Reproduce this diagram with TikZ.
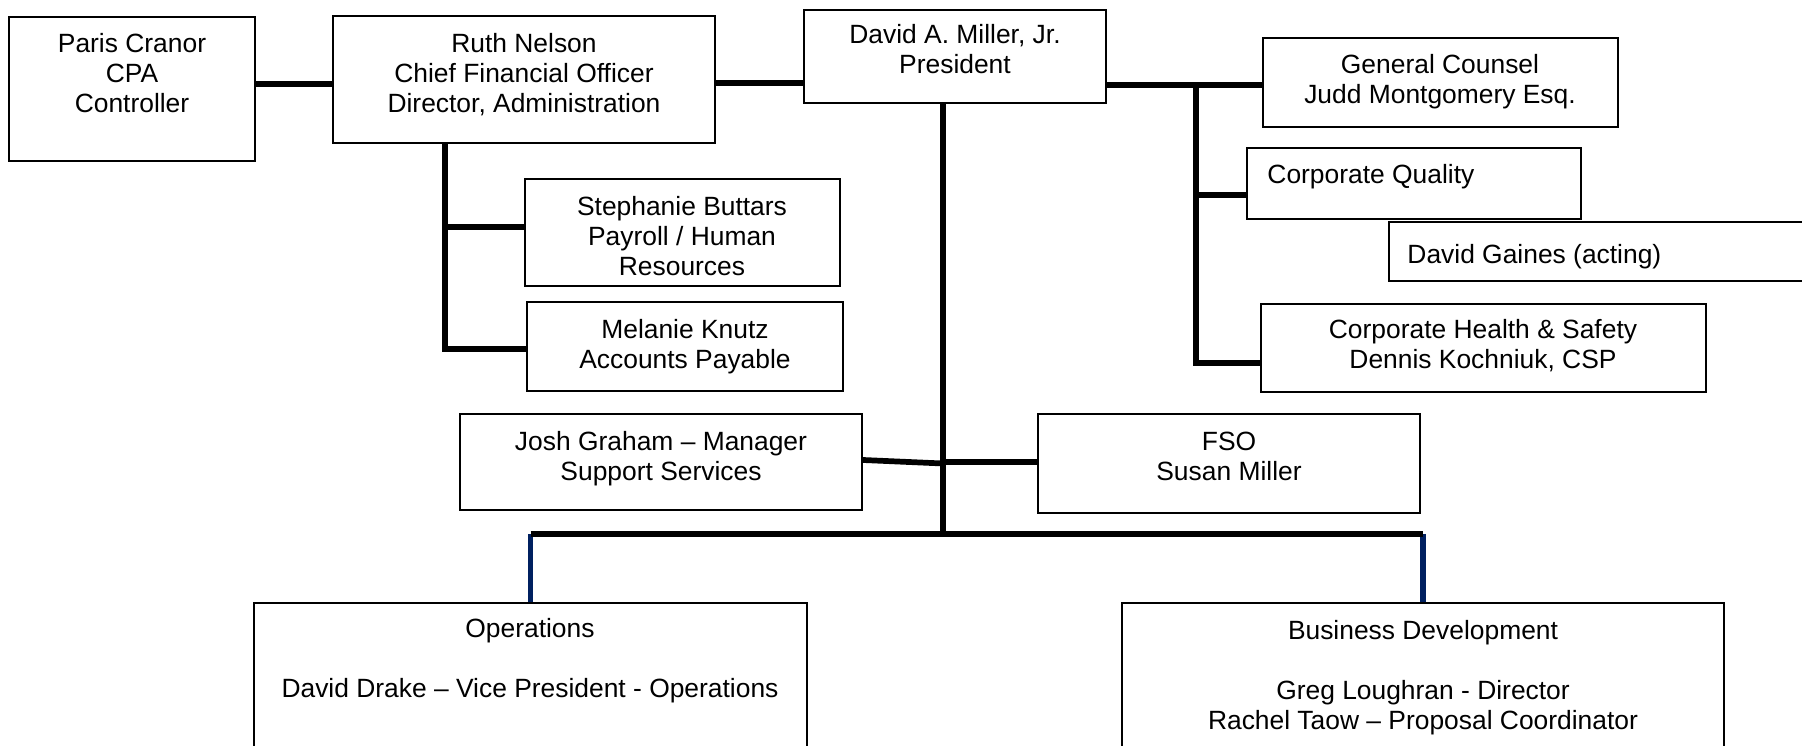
\documentclass[tikz,border=0pt]{standalone}
\usepackage{fontspec}
\setmainfont{Liberation Sans}
\def\pxu{0.454545pt}
\definecolor{navyline}{RGB}{0,32,96}
\tikzset{
  orgbox/.style={draw=black, line width=0.9pt, rectangle, inner sep=0pt},
  lbl/.style={inner sep=0pt, align=center, anchor=north, font=\fontsize{12pt}{13.64pt}\selectfont},
  lbll/.style={lbl, align=left, anchor=north west},
  link/.style={line width=2.6pt, draw=black},
  navylink/.style={line width=2.3pt, draw=navyline},
}
\begin{document}
\begin{tikzpicture}[x=0.454545pt, y=-0.454545pt]
\useasboundingbox (0,0) rectangle (1802,746);
% boxes
\node[orgbox, minimum width=246*\pxu, minimum height=144*\pxu] (paris) at (132,89) {};
\node[orgbox, minimum width=382*\pxu, minimum height=127*\pxu] (ruth) at (524,79.5) {};
\node[orgbox, minimum width=302*\pxu, minimum height=93*\pxu] (david) at (955,56.5) {};
\node[orgbox, minimum width=355*\pxu, minimum height=89*\pxu] (genc) at (1440.5,82.5) {};
\node[orgbox, minimum width=334*\pxu, minimum height=71*\pxu] (cq) at (1414,183.5) {};
\node[orgbox, minimum width=441*\pxu, minimum height=59*\pxu] (dg) at (1609.5,251.5) {};
\node[orgbox, minimum width=445*\pxu, minimum height=88*\pxu] (chs) at (1483.5,348) {};
\node[orgbox, minimum width=315*\pxu, minimum height=107*\pxu] (steph) at (682.5,232.5) {};
\node[orgbox, minimum width=316*\pxu, minimum height=89*\pxu] (mel) at (685,346.5) {};
\node[orgbox, minimum width=402*\pxu, minimum height=96*\pxu] (josh) at (661,462) {};
\node[orgbox, minimum width=382*\pxu, minimum height=99*\pxu] (fso) at (1229,463.5) {};
\node[orgbox, minimum width=553*\pxu, minimum height=167*\pxu] (ops) at (530.5,686.5) {};
\node[orgbox, minimum width=602*\pxu, minimum height=167*\pxu] (bd) at (1423,686.5) {};
% texts
\node[lbl] (tparis) at (132,31) {\strut Paris Cranor\\CPA\\Controller};
\node[lbl] (truth) at (524,31) {\strut Ruth Nelson\\Chief Financial Officer\\Director, Administration};
\node[lbl] (tdavid) at (955,22) {\strut David A. Miller, Jr.\\President};
\node[lbl] (tgenc) at (1440,52) {\strut General Counsel\\Judd Montgomery Esq.};
\node[lbll] (tcq) at (1267,162) {\strut Corporate Quality};
\node[lbll] (tdg) at (1407,242) {\strut David Gaines (acting)};
\node[lbl] (tchs) at (1483,317) {\strut Corporate Health \& Safety\\Dennis Kochniuk, CSP};
\node[lbl] (tsteph) at (682,194) {\strut Stephanie Buttars\\Payroll / Human\\Resources};
\node[lbl] (tmel) at (685,317) {\strut Melanie Knutz\\Accounts Payable};
\node[lbl] (tjosh) at (661,429) {\strut Josh Graham – Manager\\Support Services};
\node[lbl] (tfso) at (1229,429) {\strut FSO\\Susan Miller};
\node[lbl] (tops) at (530,616) {\strut Operations\\\strut\\David Drake – Vice President - Operations};
\node[lbl] (tbd) at (1423,618) {\strut Business Development\\\strut\\Greg Loughran - Director\\Rachel Taow – Proposal Coordinator};
% helper coordinates
\coordinate (rbusT) at (1196,85);
\coordinate (rbusB) at (1196,363);
\coordinate (lbusB) at (445,349);
\coordinate (mbus) at (943,534);
% connectors
\draw[link] (paris.east |- 0,84) -- (ruth.west |- 0,84);
\draw[link] (ruth.east |- 0,83) -- (david.west |- 0,83);
\draw[link] (david.east |- rbusT) -- (genc.west |- rbusT);
\draw[link] (rbusT) -- (rbusB) -- (chs.west |- rbusB);
\draw[link] (rbusT |- 0,195) -- (cq.west |- 0,195);
\draw[link] (ruth.south -| lbusB) -- (lbusB) -- (mel.west |- lbusB);
\draw[link] (lbusB |- 0,227) -- (steph.west |- 0,227);
\draw[link] (david.south -| mbus) -- (mbus);
\draw[link] (josh.east |- 0,460) -- (mbus |- 0,463.5);
\draw[link] (mbus |- 0,462) -- (fso.west |- 0,462);
\draw[navylink] (ops.north |- mbus) -- (ops.north);
\draw[navylink] (bd.north |- mbus) -- (bd.north);
\draw[link] (ops.north |- mbus) -- (bd.north |- mbus);
\end{tikzpicture}
\end{document}
